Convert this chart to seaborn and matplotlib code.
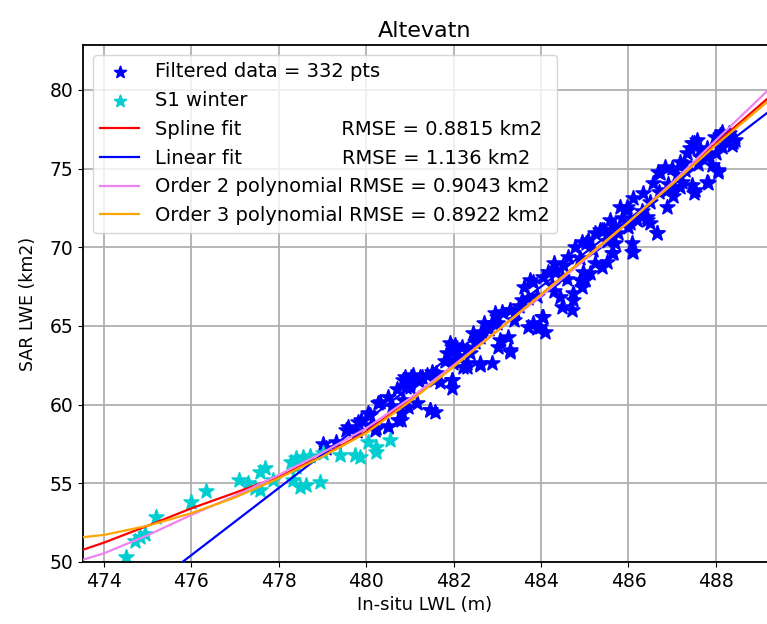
import matplotlib
matplotlib.use("Agg")
import matplotlib.pyplot as plt
import seaborn as sns
import pandas as pd

# ------------------------------------------------------------------
# Data
# ------------------------------------------------------------------
filtered_x = [
    479.09, 479.58, 479.54, 479.89, 480.08, 480.27, 480.23, 480.50, 480.80, 480.84,
    480.92, 481.03, 480.84, 480.96, 479.82, 480.05, 480.32, 480.20, 480.51, 480.73,
    480.81, 480.89, 481.08, 481.27, 481.50, 481.00, 481.16, 481.46, 481.57, 481.69,
    481.96, 481.96, 481.84, 481.96, 482.03, 482.19, 482.30, 482.38, 482.45, 482.64,
    482.60, 482.87, 482.95, 483.10, 483.29, 483.25, 483.29, 483.02, 483.56, 483.71,
    483.71, 483.90, 484.02, 484.09, 483.82, 484.05, 484.17, 484.32, 484.47, 484.24,
    484.43, 484.47, 484.74, 484.70, 484.93, 485.00, 485.12, 484.62, 484.78, 484.93,
    485.08, 485.24, 485.39, 485.24, 485.39, 485.50, 485.62, 485.69, 485.77, 485.85,
    485.96, 486.07, 486.07, 485.43, 485.58, 485.81, 485.96, 486.11, 486.04, 486.19,
    486.42, 486.49, 486.65, 486.34, 486.57, 486.68, 486.84, 486.99, 486.88, 487.03,
    487.22, 487.18, 487.33, 487.45, 487.56, 487.64, 487.79, 487.91, 488.06, 487.83,
    487.52, 487.45, 487.98, 488.14, 488.29, 488.44, 488.36, 488.14, 487.49, 487.79,
    488.06, 487.49, 488.40, 488.10, 486.11, 486.65, 486.42, 486.88, 487.03, 487.18,
    486.72, 487.26, 487.64, 485.65, 485.58, 485.35, 485.04, 484.89, 484.74, 484.97,
    484.05, 483.98, 483.82, 483.75, 483.29, 483.37, 482.99, 482.91, 483.06, 483.29,
    482.60, 482.30, 481.92, 481.99, 482.30, 482.60, 481.54, 481.23, 481.00, 481.46,
    481.96, 482.22, 480.50, 480.70, 481.20, 481.40, 481.60, 482.10, 482.50, 482.80,
    483.00, 483.40, 483.50, 483.90, 484.30, 484.60, 484.50, 484.90, 485.20, 485.50,
    485.70, 486.00, 486.30, 486.50, 486.70, 486.90, 487.10, 487.30, 487.60, 487.80,
    488.00, 488.20, 487.40, 484.30, 483.60, 482.70, 481.80, 480.60, 480.10, 479.80,
    479.30, 479.00,
]
filtered_y = [
    57.23, 58.60, 58.39, 59.03, 59.35, 60.09, 58.50, 58.65, 59.03, 61.57,
    61.14, 61.78, 60.30, 59.87, 58.92, 59.45, 60.19, 58.39, 58.60, 59.03,
    59.45, 61.78, 61.89, 61.78, 62.10, 61.14, 60.09, 59.66, 59.56, 61.46,
    61.57, 61.04, 63.27, 63.69, 63.80, 63.69, 62.63, 63.27, 64.54, 64.64,
    62.52, 62.63, 65.81, 65.91, 66.02, 64.32, 63.37, 63.69, 66.66, 66.76,
    64.96, 64.86, 65.60, 64.64, 67.82, 68.14, 68.46, 68.56, 68.14, 67.61,
    66.87, 66.23, 66.66, 66.02, 67.50, 67.93, 68.35, 69.41, 70.05, 70.36,
    70.47, 70.90, 71.11, 68.99, 68.77, 69.09, 69.62, 70.26, 70.90, 71.85,
    72.59, 70.26, 69.73, 71.11, 70.79, 72.59, 72.38, 73.12, 71.53, 71.74,
    71.95, 71.53, 70.90, 73.44, 74.07, 74.81, 75.13, 75.03, 73.65, 73.86,
    74.18, 75.45, 75.98, 76.62, 76.83, 76.19, 75.77, 75.24, 74.81, 74.07,
    73.65, 73.97, 77.04, 77.36, 77.25, 76.83, 76.51, 76.40, 73.44, 74.18,
    74.92, 76.62, 76.72, 77.15, 69.73, 70.90, 71.74, 72.59, 73.23, 73.86,
    74.71, 75.35, 75.77, 69.62, 71.74, 71.11, 70.26, 67.93, 67.08, 68.46,
    65.60, 64.96, 65.17, 67.93, 66.02, 65.39, 65.60, 65.17, 64.11, 63.48,
    64.32, 63.48, 63.90, 62.63, 62.42, 62.63, 61.57, 61.78, 61.36, 59.66,
    61.57, 62.42, 60.50, 61.00, 61.50, 61.90, 62.00, 63.10, 64.00, 64.80,
    65.20, 65.90, 66.30, 66.90, 67.20, 68.00, 68.90, 69.30, 69.80, 70.40,
    71.30, 71.30, 72.30, 72.90, 73.50, 74.00, 74.60, 74.90, 75.30, 76.30,
    76.00, 76.90, 76.30, 69.00, 67.50, 65.20, 62.80, 59.90, 58.70, 58.30,
    57.60, 57.50,
]

winter_x = [
    474.50, 474.70, 474.82, 474.93, 475.18, 475.98, 476.34, 477.10, 477.30, 477.45,
    477.56, 477.56, 477.68, 477.87, 478.29, 478.40, 478.55, 478.71, 478.32, 478.48,
    478.63, 478.40, 478.95, 479.01, 479.39, 479.74, 479.85, 480.04, 480.23, 480.23,
    480.54,
]
winter_y = [
    50.34, 51.35, 51.57, 51.76, 52.88, 53.83, 54.51, 55.20, 55.04, 54.69,
    54.58, 55.74, 55.96, 55.21, 56.38, 56.59, 56.70, 56.74, 55.21, 54.79,
    54.90, 56.06, 55.11, 56.91, 56.80, 56.80, 56.65, 57.65, 57.01, 57.33,
    57.76,
]

curve_x = [473.5, 474, 475, 476, 477, 478, 479, 480, 481, 482, 483, 484, 485,
           486, 487, 488, 489.2]
spline_y = [50.76, 51.23, 52.3, 53.41, 54.4, 55.42, 56.75, 58.28, 60.3, 62.5,
            64.7, 67.0, 69.3, 71.6, 74.1, 76.6, 79.5]
poly3_y = [51.57, 51.72, 52.3, 53.1, 54.1, 55.32, 56.7, 58.2, 60.2, 62.4,
           64.7, 67.0, 69.3, 71.6, 74.0, 76.5, 79.3]
poly2_y = [50.13, 50.55, 51.7, 52.99, 54.2, 55.53, 56.95, 58.5, 60.4, 62.5,
           64.7, 66.9, 69.2, 71.6, 74.1, 76.8, 80.0]
linear_x = [473.5, 489.2]
linear_y = [45.1, 78.6]

labels = [
    "Filtered data = 332 pts",
    "S1 winter",
    "Spline fit" + " " * 16 + "RMSE = 0.8815 km2",
    "Linear fit" + " " * 16 + "RMSE = 1.136 km2",
    "Order 2 polynomial RMSE = 0.9043 km2",
    "Order 3 polynomial RMSE = 0.8922 km2",
]

# ------------------------------------------------------------------
# Plot
# ------------------------------------------------------------------
plt.rcParams["font.family"] = ["DejaVu Sans"]
plt.rcParams["font.size"] = 13

fig = plt.figure(figsize=(7.67, 6.24), dpi=100)
ax = fig.add_axes([0.1082, 0.0994, 0.8918, 0.8285])

star_kw = dict(marker="*", s=120, linewidth=1.3, ax=ax, zorder=2)
sns.scatterplot(x=filtered_x, y=filtered_y, color="blue", edgecolor="blue",
                label=labels[0], **star_kw)
sns.scatterplot(x=winter_x, y=winter_y, color="darkturquoise",
                edgecolor="darkturquoise", label=labels[1], **star_kw)

curves = pd.DataFrame({"x": curve_x, "spline": spline_y, "poly2": poly2_y, "poly3": poly3_y})
sns.lineplot(data=curves, x="x", y="spline", color="red", lw=1.6, ax=ax, label=labels[2], zorder=3)
sns.lineplot(x=linear_x, y=linear_y, color="blue", lw=1.6, ax=ax, label=labels[3], zorder=3)
sns.lineplot(data=curves, x="x", y="poly2", color="violet", lw=1.6, ax=ax, label=labels[4], zorder=3)
sns.lineplot(data=curves, x="x", y="poly3", color="orange", lw=1.6, ax=ax, label=labels[5], zorder=3)

ax.set_xlim(473.52, 489.17)
ax.set_ylim(50, 82.86)
ax.set_xticks(range(474, 489, 2))
ax.set_yticks(range(50, 81, 5))
ax.grid(True, color="#b0b0b0", lw=1.3)
ax.set_axisbelow(True)
ax.spines["right"].set_visible(False)
for s in ["left", "top", "bottom"]:
    ax.spines[s].set_color("black")
    ax.spines[s].set_linewidth(1.3)

ax.set_title("Altevatn", fontsize=16)
ax.set_xlabel("In-situ LWL (m)", fontsize=13)
ax.set_ylabel("SAR LWE (km2)", fontsize=12.5, labelpad=9)
ax.tick_params(labelsize=13.5)
leg = ax.legend(loc="upper left", fontsize=14, framealpha=0.8, markerscale=0.8)

fig.savefig("out.png", dpi=100)
plt.close(fig)
